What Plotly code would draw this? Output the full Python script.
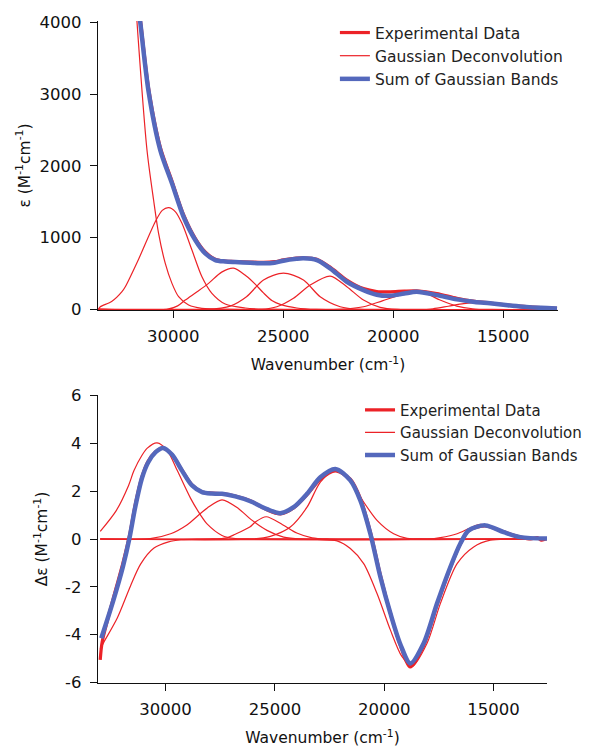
import plotly.graph_objects as go

# ---------------- Top panel: absorption (epsilon) ----------------
top_wn = [31900, 31650, 31500, 31121, 30590, 30059, 29532, 29000, 28547, 28093, 27639,
          27185, 26500, 25900, 25400, 24992, 24400, 24083, 23475, 22870, 22112, 21355,
          20750, 20146, 19500, 18934, 18026, 17117, 16300, 15604, 14800, 14091, 13300, 12560]
top_exp = [4950, 4400, 4050, 3080, 2260, 1790, 1320, 990, 800, 700, 672,
           668, 660, 655, 665, 690, 715, 720, 700, 590, 410, 290,
           250, 245, 255, 258, 222, 155, 112, 90, 62, 42, 25, 16]
top_sum = [4900, 4350, 4000, 3033, 2220, 1757, 1291, 967, 781, 688, 668,
           660, 650, 642, 650, 679, 705, 712, 688, 572, 386, 270,
           205, 190, 222, 246, 200, 140, 105, 85, 58, 38, 22, 14]

top_bands = [
    ([32100, 31650, 31194, 30894, 30667, 30363, 30059, 29756, 29302, 28697, 27500, 12560],
     [6200, 4013, 2220, 1524, 1060, 642, 363, 177, 61, 15, 0, 0]),
    ([33400, 33315, 32800, 32330, 32180, 31576, 30817, 30500, 30213, 29900, 29605, 29151,
      28697, 28244, 27639, 26731, 25500, 12560],
     [0, 38, 110, 247, 316, 700, 1222, 1380, 1417, 1360, 1199, 827,
      455, 224, 75, 20, 0, 0]),
    ([33400, 30300, 29800, 29455, 28900, 28397, 27800, 27262, 26700, 26300, 25900, 25500,
      25142, 24385, 23500, 12560],
     [0, 0, 50, 131, 250, 363, 520, 575, 470, 360, 230, 120, 70, 20, 0, 0]),
    ([33400, 28500, 27412, 26671, 25900, 24992, 24083, 23324, 22416, 21500, 12560],
     [0, 0, 47, 177, 410, 507, 410, 177, 38, 0, 0]),
    ([33400, 26000, 25293, 24537, 23778, 22870, 22112, 21355, 20600, 19800, 12560],
     [0, 0, 38, 155, 340, 465, 316, 131, 29, 0, 0]),
    ([33400, 22500, 21355, 20500, 19692, 19088, 18500, 17876, 17117, 16400, 15500, 12560],
     [0, 0, 38, 120, 200, 245, 220, 131, 47, 10, 0, 0]),
    ([33400, 19000, 18200, 17500, 16800, 16000, 15200, 14500, 13800, 12560],
     [0, 0, 10, 45, 82, 98, 75, 40, 15, 2]),
]

# ---------------- Bottom panel: CD (delta epsilon) ----------------
bot_exp_wn = [32990, 32900, 32400, 31950, 31650, 31386, 31080, 30800, 30457, 30120, 29700,
              29250, 28792, 28335, 27900, 27420, 26811, 26125, 25363, 24753, 24144, 23531,
              22922, 22236, 21550, 21093, 20635, 20178, 19720, 19263, 18805, 18196, 17583,
              16975, 16518, 16137, 15373, 14536, 13773, 13300, 13000, 12800, 12551]
bot_exp = [-5.05, -4.3, -2.5, -1.0, 0.15, 1.45, 2.6, 3.25, 3.65, 3.8, 3.52,
           2.88, 2.26, 1.97, 1.92, 1.9, 1.8, 1.6, 1.22, 1.05, 1.3, 1.85,
           2.5, 2.85, 2.5, 1.7, 0.3, -1.5, -3.1, -4.45, -5.35, -4.45, -2.75,
           -1.2, -0.2, 0.35, 0.55, 0.3, 0.08, 0.0, 0.06, -0.05, 0.02]
bot_sum_wn = [32942, 32400, 31950, 31650, 31386, 31080, 30800, 30457, 30120, 29700,
              29250, 28792, 28335, 27900, 27420, 26811, 26125, 25363, 24753, 24144, 23531,
              22922, 22236, 21550, 21093, 20635, 20178, 19720, 19263, 18805, 18196, 17583,
              16975, 16518, 16137, 15373, 14536, 13773, 12551]
bot_sum = [-4.15, -2.6, -1.15, 0.05, 1.35, 2.55, 3.2, 3.63, 3.81, 3.52,
           2.86, 2.24, 1.96, 1.90, 1.89, 1.78, 1.58, 1.25, 1.08, 1.33, 1.89,
           2.58, 2.93, 2.45, 1.61, 0.22, -1.58, -3.1, -4.4, -5.2, -4.36, -2.69,
           -1.17, -0.19, 0.36, 0.57, 0.29, 0.08, 0.02]

bot_bands = [
    ([32990, 32250, 31693, 31446, 31080, 30837, 30393, 29922, 29465, 28856, 28399, 28093,
      27420, 26800, 26000, 12551],
     [0.32, 1.2, 2.24, 2.86, 3.5, 3.8, 4.02, 3.70, 2.86, 1.7, 1.0, 0.62,
      0.15, 0.02, 0, 0]),
    ([32990, 32818, 32210, 31601, 31144, 30531, 29863, 29300, 28500, 12551],
     [-4.6, -4.3, -3.3, -1.95, -1.05, -0.38, -0.12, -0.03, 0, 0]),
    ([32990, 30700, 29771, 29007, 28550, 28093, 27420, 26660, 26100, 25363, 24601, 23800, 12551],
     [0, 0.02, 0.22, 0.6, 0.95, 1.3, 1.64, 1.27, 0.82, 0.36, 0.08, 0, 0]),
    ([32990, 28000, 27200, 26811, 26150, 25896, 25400, 24650, 24000, 23300, 22500, 12551],
     [0, 0, 0.05, 0.2, 0.5, 0.71, 0.93, 0.6, 0.25, 0.05, 0, 0]),
    ([32990, 26000, 25210, 24295, 23531, 22922, 22236, 21701, 21093, 20330, 19569, 18956,
      18000, 12551],
     [0, 0, 0.11, 0.5, 1.33, 2.38, 2.9, 2.58, 1.75, 0.78, 0.22, 0.03, 0, 0]),
    ([32990, 23800, 23074, 22159, 21550, 20940, 20330, 19720, 19200, 18728, 18041, 17430,
      16667, 15909, 15145, 14300, 12551],
     [0, 0, -0.02, -0.08, -0.40, -1.03, -2.28, -3.80, -4.9, -5.33, -4.36, -2.69,
      -1.03, -0.33, -0.05, 0, 0]),
    ([32990, 18000, 17430, 16667, 16100, 15603, 14839, 14078, 13400, 12551],
     [0, 0, 0.06, 0.22, 0.45, 0.61, 0.43, 0.15, 0.03, 0]),
]

legend_names = ["Experimental Data", "Gaussian Deconvolution", "Sum of Gaussian Bands"]
x_tick_vals = [30000, 25000, 20000, 15000]
x_tick_text = ["30000", "25000", "20000", "15000"]
y_tick_vals_top = [0, 1000, 2000, 3000, 4000]
y_tick_text_top = ["0", "1000", "2000", "3000", "4000"]
y_tick_vals_bot = [-6, -4, -2, 0, 2, 4, 6]
y_tick_text_bot = ["-6", "-4", "-2", "0", "2", "4", "6"]

RED = "#ec2227"
BLUE = "#5468bc"
FONT = "DejaVu Sans"

fig = go.Figure()


def add_panel(xa, ya, leg, wn_exp, exp, wn_sum, ssum, bands):
    for i, (bx, by) in enumerate(bands):
        fig.add_trace(go.Scatter(
            x=bx, y=by, mode="lines", xaxis=xa, yaxis=ya,
            line=dict(color=RED, width=1.2, shape="spline", smoothing=0.8),
            name=legend_names[1], showlegend=(i == 0), legend=leg, legendrank=2))
    fig.add_trace(go.Scatter(
        x=wn_exp, y=exp, mode="lines", xaxis=xa, yaxis=ya,
        line=dict(color=RED, width=3.2, shape="spline", smoothing=0.8),
        name=legend_names[0], legend=leg, legendrank=1))
    fig.add_trace(go.Scatter(
        x=wn_sum, y=ssum, mode="lines", xaxis=xa, yaxis=ya,
        line=dict(color=BLUE, width=4.5, shape="spline", smoothing=0.8),
        name=legend_names[2], legend=leg, legendrank=3))


add_panel("x", "y", "legend", top_wn, top_exp, top_wn, top_sum, top_bands)
add_panel("x2", "y2", "legend2", bot_exp_wn, bot_exp, bot_sum_wn, bot_sum, bot_bands)

axis_common = dict(
    showgrid=False, zeroline=False, showline=True, linecolor="#111", linewidth=1.3,
    ticks="outside", ticklen=7, tickwidth=1.2, tickcolor="#111",
    tickfont=dict(family=FONT, size=16.5, color="#111"),
)

fig.update_layout(
    width=595, height=749,
    margin=dict(l=98, r=37, t=21, b=66, autoexpand=False),
    paper_bgcolor="white", plot_bgcolor="white",
    font=dict(family=FONT, color="#111"),
    xaxis=dict(domain=[0, 1], anchor="y", range=[33420, 12516],
               tickvals=x_tick_vals, ticktext=x_tick_text, ticklabelstandoff=4,
               title=dict(text="Wavenumber (cm<sup>-1</sup>)", standoff=14,
                          font=dict(family=FONT, size=15.5)),
               **axis_common),
    yaxis=dict(domain=[0.5634, 1.0], anchor="x", range=[-8, 4017],
               tickvals=y_tick_vals_top, ticktext=y_tick_text_top, ticklabelstandoff=5,
               title=dict(text="ε (M<sup>-1</sup>cm<sup>-1</sup>)", standoff=5,
                          font=dict(family=FONT, size=15.5)),
               **axis_common),
    xaxis2=dict(domain=[0, 0.976], anchor="y2", range=[33092, 12557],
                tickvals=x_tick_vals, ticktext=x_tick_text, ticklabelstandoff=4,
                title=dict(text="Wavenumber (cm<sup>-1</sup>)", standoff=14,
                           font=dict(family=FONT, size=15.5)),
                **axis_common),
    yaxis2=dict(domain=[0, 0.435], anchor="x2", range=[-6.02, 6.02],
                tickvals=y_tick_vals_bot, ticktext=y_tick_text_bot, ticklabelstandoff=5,
                title=dict(text="Δε (M<sup>-1</sup>cm<sup>-1</sup>)", standoff=13,
                           font=dict(family=FONT, size=15.5)),
                **axis_common),
    legend=dict(x=0.515, y=1.0076, xanchor="left", yanchor="top",
                bgcolor="rgba(0,0,0,0)", font=dict(family=FONT, size=15.5, color="#222"),
                traceorder="normal"),
    legend2=dict(x=0.5696, y=0.437, xanchor="left", yanchor="top",
                 bgcolor="rgba(0,0,0,0)", font=dict(family=FONT, size=15, color="#222"),
                 traceorder="normal"),
)

fig.write_html("out.html")
